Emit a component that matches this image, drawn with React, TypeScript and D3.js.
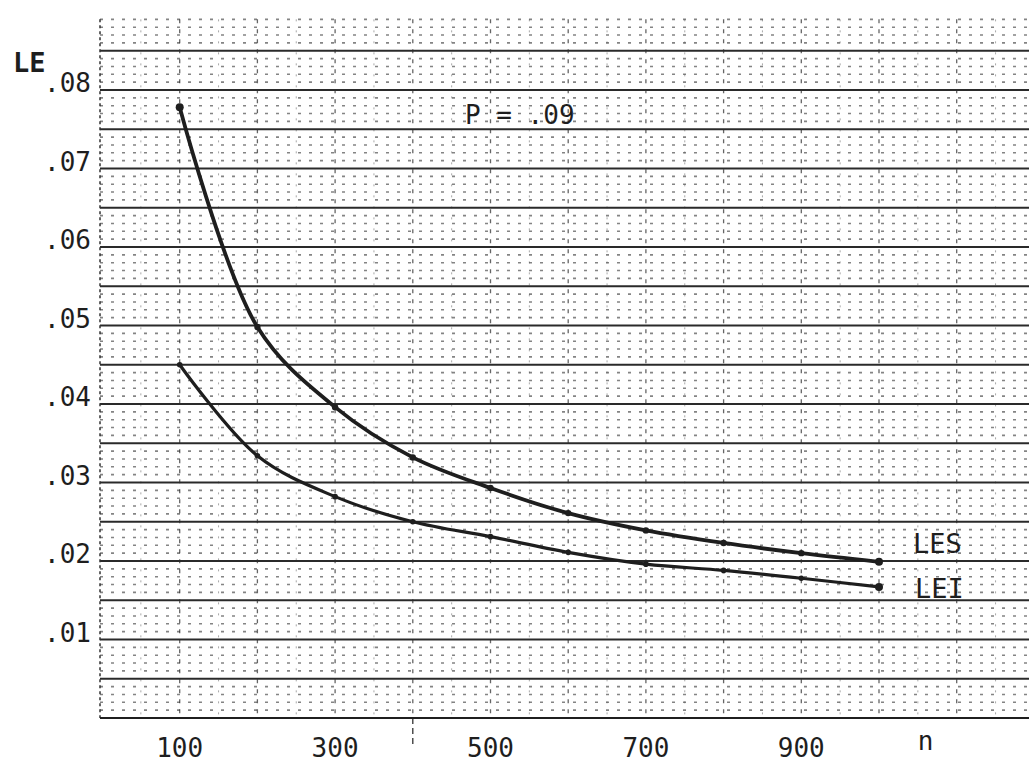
import React from "react";
import * as d3 from "d3";

const N_VALUES = [100, 200, 300, 400, 500, 600, 700, 800, 900, 1000];
const LES_VALUES = [0.0778, 0.0498, 0.0396, 0.0332, 0.0293, 0.0261, 0.0239, 0.0223, 0.021, 0.0199];
const LEI_VALUES = [0.045, 0.0334, 0.0282, 0.025, 0.0231, 0.0211, 0.0196, 0.0188, 0.0178, 0.0167];
const Y_TICKS = [0.01, 0.02, 0.03, 0.04, 0.05, 0.06, 0.07, 0.08];
const Y_TICK_LABELS = [".01", ".02", ".03", ".04", ".05", ".06", ".07", ".08"];
const X_TICKS = [100, 300, 500, 700, 900];
const SERIES_NAMES = ["LES", "LEI"];

const W = 1029;
const H = 764;
const FONT = "'DejaVu Sans Mono', monospace";
const INK = "#1e1e1e";

export default function App() {
  const x = d3.scaleLinear().domain([0, 1200]).range([102, 102 + 0.777 * 1200]);
  const y = d3.scaleLinear().domain([0, 0.089]).range([718, 718 - 0.089 * 7850]);

  const left = 100;
  const right = W;
  const top = y(0.089);
  const bottom = y(0);

  const minorH = d3.range(1, 90).map((i) => i / 1000).filter((v) => v <= 0.0891 && Math.round(v * 1000) % 5 !== 0);
  const majorH = d3.range(1, 18).map((i) => i * 0.005);
  const vLines = d3.range(100, 1200, 100);
  const vMinor = d3.range(50, 1200, 100);

  const line = d3
    .line<[number, number]>()
    .x((d) => x(d[0]))
    .y((d) => y(d[1]))
    .curve(d3.curveCatmullRom.alpha(0.5));

  const les: [number, number][] = N_VALUES.map((n, i) => [n, LES_VALUES[i]]);
  const lei: [number, number][] = N_VALUES.map((n, i) => [n, LEI_VALUES[i]]);

  return (
    <svg
      width={W}
      height={H}
      style={{ position: "absolute", left: 0, top: 0, background: "#fff" }}
    >
      <rect x={0} y={0} width={W} height={H} fill="#fff" />
      {/* minor dotted rows */}
      {minorH.map((v) => (
        <line
          key={"mh" + v}
          x1={left}
          x2={right}
          y1={y(v)}
          y2={y(v)}
          stroke="#333"
          strokeWidth={1.6}
          strokeDasharray="3 8"
          opacity={0.6}
        />
      ))}
      {/* vertical lines */}
      {vMinor.map((n) => (
        <line
          key={"vm" + n}
          x1={x(n)}
          x2={x(n)}
          y1={top}
          y2={bottom}
          stroke="#555"
          strokeWidth={1}
          strokeDasharray="2 9"
          opacity={0.5}
        />
      ))}
      {vLines.map((n) => (
        <line
          key={"v" + n}
          x1={x(n)}
          x2={x(n)}
          y1={top}
          y2={bottom}
          stroke="#333"
          strokeWidth={1.3}
          strokeDasharray="4 6"
          opacity={0.75}
        />
      ))}
      <line x1={x(400)} x2={x(400)} y1={bottom} y2={bottom + 28} stroke="#333" strokeWidth={1.3} strokeDasharray="6 4" />
      {/* major rows */}
      {majorH.map((v) => (
        <line
          key={"h" + v}
          x1={left}
          x2={right}
          y1={y(v)}
          y2={y(v)}
          stroke="#2a2a2a"
          strokeWidth={1.8}
        />
      ))}
      <line x1={left} x2={left} y1={top} y2={bottom} stroke="#333" strokeWidth={1.5} strokeDasharray="3 3" />
      <line x1={left} x2={right} y1={bottom} y2={bottom} stroke={INK} strokeWidth={2.2} />

      {/* curves */}
      <path d={line(les) || ""} fill="none" stroke={INK} strokeWidth={3.8} strokeLinejoin="round" />
      <path d={line(lei) || ""} fill="none" stroke={INK} strokeWidth={3.2} strokeLinejoin="round" />
      {les.map((d, i) => (
        <circle key={"pS" + i} cx={x(d[0])} cy={y(d[1])} r={i === 0 || i === les.length - 1 ? 4 : 3.2} fill={INK} />
      ))}
      {lei.map((d, i) => (
        <circle key={"pI" + i} cx={x(d[0])} cy={y(d[1])} r={i === lei.length - 1 ? 4 : 2.8} fill={INK} />
      ))}

      {/* axis labels */}
      <text x={13} y={72} fontFamily={FONT} fontSize={27} fontWeight="bold" fill={INK}>
        LE
      </text>
      {Y_TICKS.map((v, i) => (
        <text
          key={"yt" + v}
          x={91}
          y={y(v) + 2}
          textAnchor="end"
          fontFamily={FONT}
          fontSize={26}
          fill={INK}
        >
          {Y_TICK_LABELS[i]}
        </text>
      ))}
      {X_TICKS.map((n) => (
        <text
          key={"xt" + n}
          x={x(n)}
          y={757}
          textAnchor="middle"
          fontFamily={FONT}
          fontSize={26}
          fill={INK}
        >
          {n}
        </text>
      ))}
      <text x={x(1060)} y={750} textAnchor="middle" fontFamily={FONT} fontSize={26} fill={INK}>
        n
      </text>
      <text x={465} y={124} fontFamily={FONT} fontSize={26} fill={INK}>
        P = .09
      </text>
      <text x={913} y={553} fontFamily={FONT} fontSize={27} fill={INK}>
        {SERIES_NAMES[0]}
      </text>
      <text x={915} y={598} fontFamily={FONT} fontSize={27} fill={INK}>
        {SERIES_NAMES[1]}
      </text>
    </svg>
  );
}
